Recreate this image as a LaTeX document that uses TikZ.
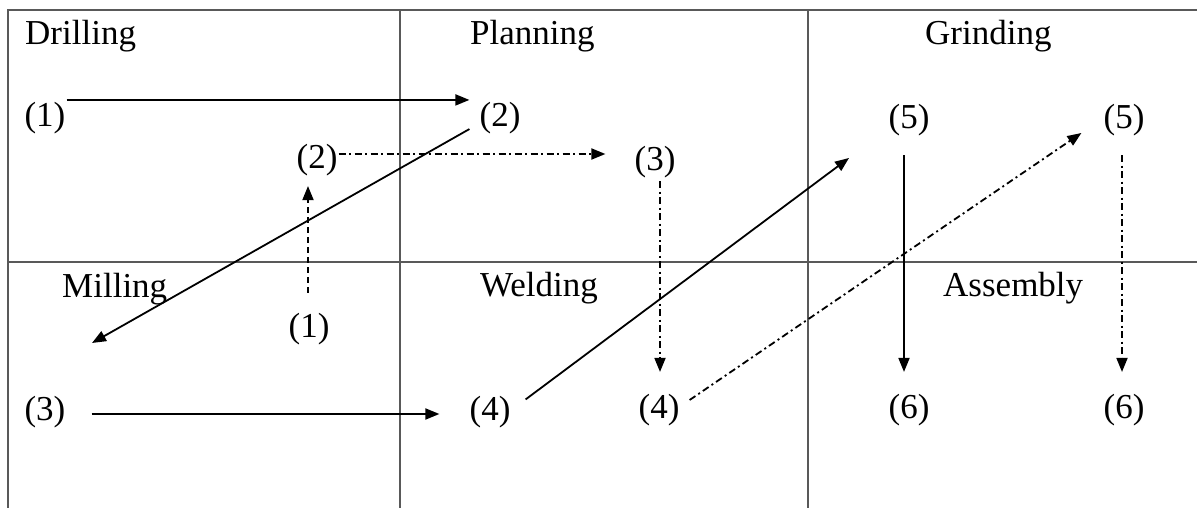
\documentclass[tikz,border=0pt]{standalone}
\usepackage{fontspec}
\setmainfont{Liberation Serif}
\usetikzlibrary{arrows.meta,calc}
\begin{document}
\begin{tikzpicture}[x=1pt,y=-1pt,
  grid/.style={draw=black!65,line width=1.6pt},
  lbl/.style={inner sep=0pt,font=\fontsize{35}{40}\selectfont},
  head/.style={inner sep=0pt,anchor=base west,font=\fontsize{35}{40}\selectfont},
  flow/.style={line width=1.8pt,-{Triangle[length=14pt,width=11pt]}},
  dd/.style={flow,dash pattern=on 7pt off 3.5pt on 2pt off 3.5pt},
  dsh/.style={flow,dash pattern=on 6pt off 4pt}]
\useasboundingbox (0,0) rectangle (1197,508);
\fill[white] (0,0) rectangle (1197,508);
% grid
\draw[grid] (8,508) -- (8,10) -- (1197,10);
\draw[grid] (8,262) -- (1197,262);
\draw[grid] (400,10) -- (400,508);
\draw[grid] (808,10) -- (808,508);
% headings
\node[head] (hdr) at (25,45) {Drilling};
\node[head] (hpl) at (470,45) {Planning};
\node[head] (hgr) at (925,45) {Grinding};
\node[head] (hmi) at (62,297) {Milling};
\node[head] (hwe) at (480,296) {Welding};
\node[head] (has) at (943,296) {Assembly};
% labels
\node[lbl] (d1) at (45,118) {(1)};
\node[lbl] (p2) at (500,118) {(2)};
\node[lbl] (d2) at (317,160) {(2)};
\node[lbl] (p3) at (655,162) {(3)};
\node[lbl] (m1) at (309,329) {(1)};
\node[lbl] (m3) at (45,412) {(3)};
\node[lbl] (w4a) at (490,412) {(4)};
\node[lbl] (w4b) at (659,410) {(4)};
\node[lbl] (g5a) at (909,120) {(5)};
\node[lbl] (g5b) at (1124,120) {(5)};
\node[lbl] (a6a) at (909,410) {(6)};
\node[lbl] (a6b) at (1124,410) {(6)};
\coordinate (mtip) at (92,343);
\coordinate (gtip) at (849,158);
% connectors
\draw[flow] ($(d1.north east)+(1,-2)$) -- ($(p2.north west)+(-10,-2)$);
\draw[flow] ($(p2.south west)+(-10,-5)$) -- (mtip);
\draw[dd] ($(d2.east)+(1,-6)$) -- ($(p3.west)+(-29,-8)$);
\draw[dsh] ($(m1.north)+(-1,-20)$) -- ($(d2.south)+(-9,10)$);
\draw[dd] ($(p3.south)+(5,3)$) -- ($(w4b.north)+(1,-22)$);
\draw[flow] ($(m3.east)+(26,2)$) -- ($(w4a.west)+(-30,2)$);
\draw[flow] ($(w4a.north east)+(15,3.5)$) -- (gtip);
\draw[dd] ($(w4b.east)+(10,-10)$) -- ($(g5b.west)+(-22,13)$);
\draw[flow] ($(g5a.south)+(-5,19)$) -- ($(a6a.north)+(-5,-22)$);
\draw[dd] ($(g5b.south)+(-2,19)$) -- ($(a6b.north)+(-2,-22)$);
\end{tikzpicture}
\end{document}
